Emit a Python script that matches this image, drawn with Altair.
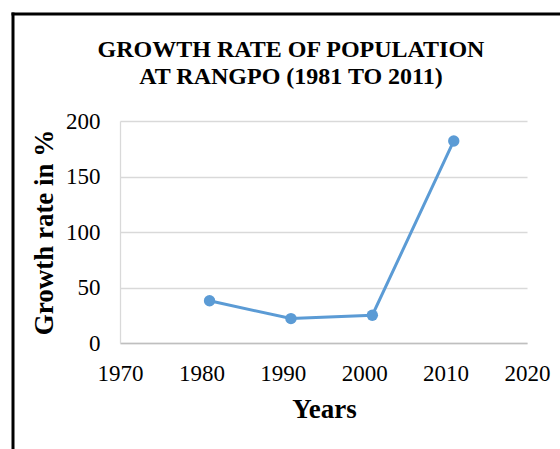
import altair as alt
import pandas as pd

# ---- data ----
years = [1981, 1991, 2001, 2011]
growth_rate = [38, 22, 25, 182]

x_ticks = [1970, 1980, 1990, 2000, 2010, 2020]
y_ticks = [0, 50, 100, 150, 200]

title_lines = ["GROWTH RATE OF POPULATION", "AT RANGPO (1981 TO 2011)"]
x_title = "Years"
y_title = "Growth rate in %"

df = pd.DataFrame({"Year": years, "Rate": growth_rate})

SERIF = "Liberation Serif"
BLUE = "#5B9BD5"

x_enc = alt.X(
    "Year:Q",
    scale=alt.Scale(domain=[x_ticks[0], x_ticks[-1]], nice=False, zero=False),
    axis=alt.Axis(
        values=x_ticks, format="d", title=x_title,
        grid=False, ticks=False, tickSize=0, labelFlush=False, labelOverlap=False,
        domain=True, domainColor="#bfbfbf", domainWidth=1.5,
        labelFont=SERIF, labelFontSize=23, labelColor="#000000",
        labelBaseline="alphabetic", labelPadding=37,
        titleFont=SERIF, titleFontSize=27, titleFontWeight="bold", titleColor="#000000",
        titleBaseline="alphabetic", titleY=74, titleX=204,
    ),
)
y_enc = alt.Y(
    "Rate:Q",
    scale=alt.Scale(domain=[y_ticks[0], y_ticks[-1]], nice=False),
    axis=alt.Axis(
        values=y_ticks, title=y_title,
        grid=True, gridColor="#d9d9d9", gridWidth=1.3,
        ticks=False, tickSize=0, labelFlush=False, labelOverlap=False,
        domain=True, domainColor="#d9d9d9", domainWidth=1.3,
        labelFont=SERIF, labelFontSize=23, labelColor="#000000",
        labelPadding=20,
        titleFont=SERIF, titleFontSize=27, titleFontWeight="bold", titleColor="#000000",
        titleAngle=270, titleBaseline="alphabetic", titleAlign="center",
        titleX=-68, titleY=111,
    ),
)

base = alt.Chart(df)
line = base.mark_line(color=BLUE, strokeWidth=3).encode(x=x_enc, y=y_enc)
points = base.mark_point(filled=True, color=BLUE, size=130, opacity=1).encode(
    x="Year:Q", y="Rate:Q"
)

single = pd.DataFrame({"k": [0]})
top_border = alt.Chart(single).mark_rule(color="#000000", strokeWidth=3).encode(
    x=alt.value(-108.5), x2=alt.value(445), y=alt.value(-107)
)
left_border = alt.Chart(single).mark_rule(color="#000000", strokeWidth=3).encode(
    x=alt.value(-107), y=alt.value(-108.5), y2=alt.value(335)
)

title_style = dict(font=SERIF, fontSize=24, fontWeight="bold", color="#000000",
                   align="center", baseline="alphabetic")
title1 = alt.Chart(single).mark_text(**title_style).encode(
    text=alt.value(title_lines[0]), x=alt.value(171), y=alt.value(-64)
)
title2 = alt.Chart(single).mark_text(**title_style).encode(
    text=alt.value(title_lines[1]), x=alt.value(171), y=alt.value(-37)
)

chart = (
    alt.layer(line, points, top_border, left_border, title1, title2)
    .properties(
        width=407,
        height=222,
        autosize="none",
        padding={"left": 120, "top": 121, "right": 33, "bottom": 106},
        background="#ffffff",
    )
    .configure_view(strokeWidth=0)
)

chart.save("out.html", embed_options={"renderer": "svg", "actions": False})
